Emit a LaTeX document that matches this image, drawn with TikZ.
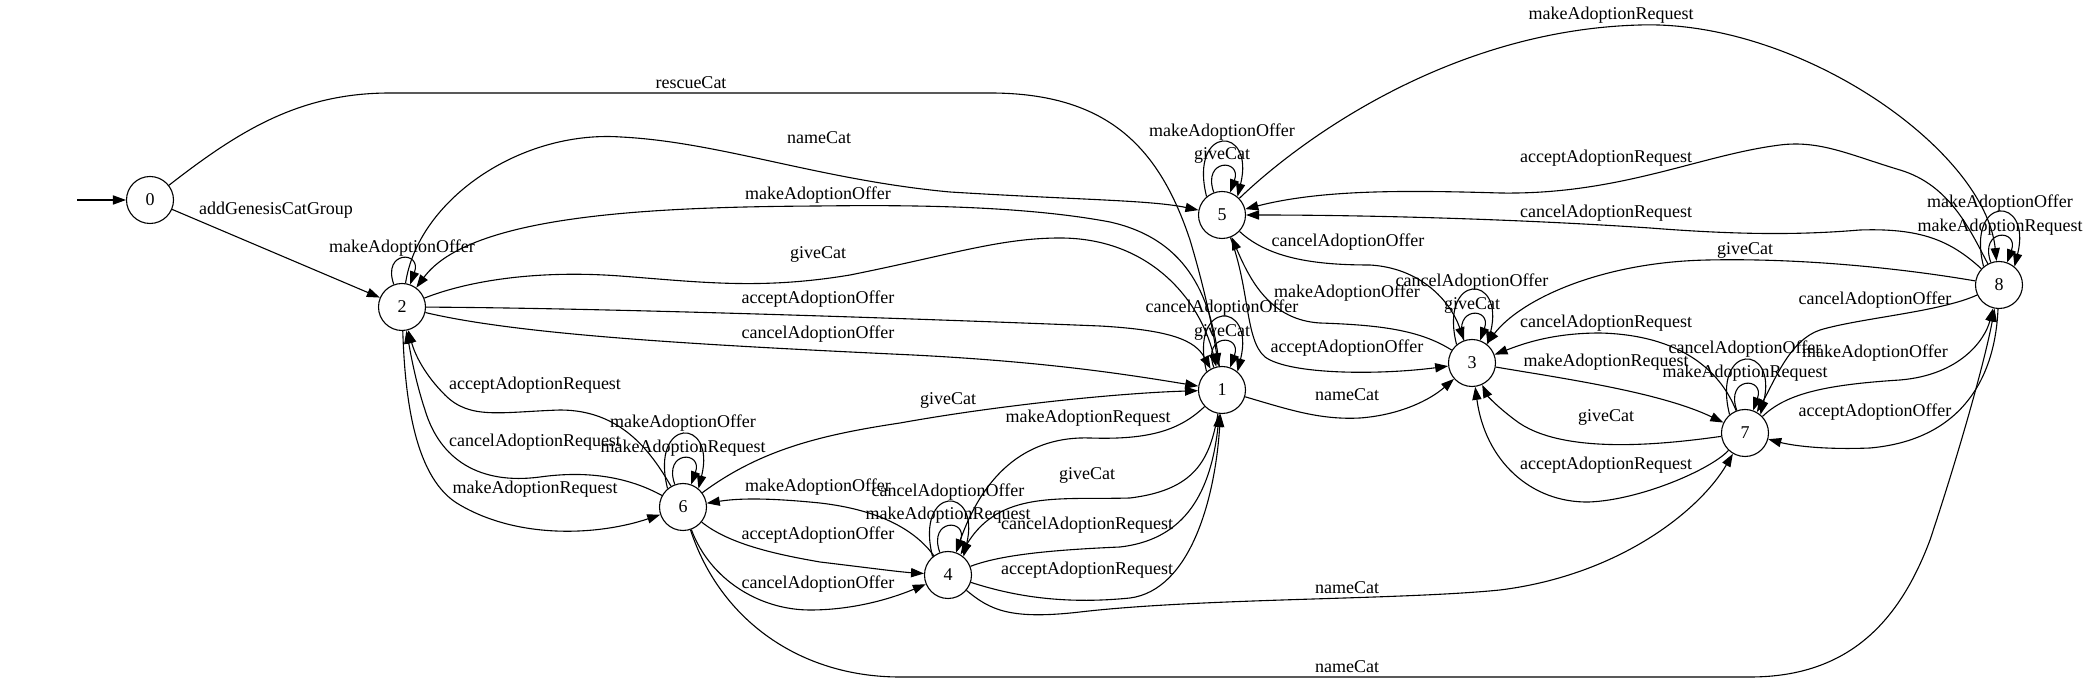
\documentclass[tikz,border=0pt]{standalone}
\usepackage{fontspec}
\newfontfamily\edgefontfam{Liberation Serif}
\newcommand\edgefont{\edgefontfam\fontsize{9}{10}\selectfont}
\usetikzlibrary{arrows.meta}
\tikzset{
  st/.style={circle, draw, line width=0.55pt, minimum size=23.5pt, inner sep=0pt, font=\edgefont},
  tr/.style={draw, line width=0.55pt, -{Triangle[length=6.5pt,width=4.6pt]}},
  lb/.style={font=\edgefont, inner sep=0pt},
}
\begin{document}
\begin{tikzpicture}[x=0.5pt,y=-0.5pt]
\useasboundingbox (0,0) rectangle (2089,683);
% states
\node[st] (n0) at (150,200) {0};
\node[st] (n2) at (402,307) {2};
\node[st] (n5) at (1222,215) {5};
\node[st] (n1) at (1222,390) {1};
\node[st] (n3) at (1472,363) {3};
\node[st] (n8) at (1999,285) {8};
\node[st] (n7) at (1745,433) {7};
\node[st] (n6) at (683,507) {6};
\node[st] (n4) at (948,575) {4};
\coordinate (init) at (77,200);
\draw[tr] (init) -- (n0);

% 0
\draw[tr] (n0) -- (n2);
\node[lb] (l02) at (276,210) {addGenesisCatGroup};
\draw[tr] (n0) .. controls (240,130) and (300,93) .. (390,93) -- (990,93) .. controls (1110,93) and (1160,150) .. (1190,240) .. controls (1205,290) and (1213,330) .. (n1);
\node[lb] (l01) at (691,83) {rescueCat};

% 2
\draw[tr] (n2.110) .. controls +(-12,-34) and +(12,-34) .. (n2.70);
\node[lb] (l22) at (402,248) {makeAdoptionOffer};
\draw[tr] (n2) .. controls (418,200) and (520,130) .. (621,137) .. controls (720,142) and (820,180) .. (950,192) .. controls (1080,200) and (1150,200) .. (n5);
\node[lb] (l25) at (819,138) {nameCat};
\draw[tr] (n1) .. controls (1212,300) and (1190,240) .. (1110,222) .. controls (1020,205) and (900,205) .. (818,206) .. controls (650,207) and (470,215) .. (n2);
\node[lb] (l12a) at (818,195) {makeAdoptionOffer};
\draw[tr] (n2) .. controls (470,280) and (540,270) .. (620,276) .. controls (700,282) and (760,290) .. (850,275) .. controls (950,255) and (1000,238) .. (1060,238) .. controls (1150,238) and (1200,300) .. (n1);
\node[lb] (l21a) at (818,254) {giveCat};
\draw[tr] (n2) .. controls (600,308) and (900,318) .. (1100,326) .. controls (1170,330) and (1195,340) .. (n1);
\node[lb] (l21b) at (818,299) {acceptAdoptionOffer};
\draw[tr] (n2) .. controls (520,335) and (700,345) .. (913,355) .. controls (1050,362) and (1130,375) .. (n1);
\node[lb] (l21c) at (818,334) {cancelAdoptionOffer};
\draw[tr] (n2) .. controls (405,400) and (415,480) .. (460,505) .. controls (520,540) and (600,535) .. (n6);
\node[lb] (l26) at (535,489) {makeAdoptionRequest};
\draw[tr] (n6) .. controls (650,450) and (620,410) .. (560,410) .. controls (500,412) and (470,420) .. (445,395) .. controls (425,375) and (415,355) .. (n2);
\node[lb] (l62a) at (535,385) {acceptAdoptionRequest};
\draw[tr] (n6) .. controls (630,478) and (590,470) .. (540,477) .. controls (480,485) and (440,460) .. (425,410) .. controls (415,380) and (410,350) .. (n2);
\node[lb] (l62b) at (535,442) {cancelAdoptionRequest};

% 6
\draw[tr] (n6.130) .. controls +(-18,-72) and +(18,-72) .. (n6.50);
\node[lb] (l66a) at (683,423) {makeAdoptionOffer};
\draw[tr] (n6.110) .. controls +(-12,-34) and +(12,-34) .. (n6.70);
\node[lb] (l66b) at (683,448) {makeAdoptionRequest};
\draw[tr] (n6) .. controls (760,450) and (820,435) .. (900,423) .. controls (1000,405) and (1120,393) .. (n1);
\node[lb] (l61) at (948,400) {giveCat};
\draw[tr] (n6) .. controls (730,545) and (780,555) .. (820,562) .. controls (870,568) and (900,572) .. (n4);
\node[lb] (l64a) at (818,535) {acceptAdoptionOffer};
\draw[tr] (n6) .. controls (710,580) and (760,610) .. (810,610) .. controls (860,610) and (900,595) .. (n4);
\node[lb] (l64b) at (818,584) {cancelAdoptionOffer};
\draw[tr] (n4) .. controls (915,530) and (880,510) .. (820,503) .. controls (770,498) and (740,498) .. (n6);
\node[lb] (l46) at (818,487) {makeAdoptionOffer};
\draw[tr] (n6) .. controls (720,620) and (800,677) .. (900,677) -- (1750,677) .. controls (1850,677) and (1900,620) .. (1930,540) .. controls (1960,450) and (1985,360) .. (n8);
\node[lb] (l68) at (1347,667) {nameCat};

% 4
\draw[tr] (n4.130) .. controls +(-18,-72) and +(18,-72) .. (n4.50);
\node[lb] (l44a) at (948,492) {cancelAdoptionOffer};
\draw[tr] (n4.110) .. controls +(-12,-34) and +(12,-34) .. (n4.70);
\node[lb] (l44b) at (948,515) {makeAdoptionRequest};
\draw[tr] (n1) .. controls (1180,430) and (1150,440) .. (1090,438) .. controls (1030,436) and (985,470) .. (n4);
\node[lb] (l14a) at (1088,418) {makeAdoptionRequest};
\draw[tr] (n1) .. controls (1210,460) and (1195,490) .. (1130,498) .. controls (1060,500) and (1000,490) .. (n4);
\node[lb] (l14b) at (1087,475) {giveCat};
\draw[tr] (n4) .. controls (1000,555) and (1050,550) .. (1120,547) .. controls (1180,540) and (1210,500) .. (n1);
\node[lb] (l41a) at (1087,525) {cancelAdoptionRequest};
\draw[tr] (n4) .. controls (1010,595) and (1060,605) .. (1130,598) .. controls (1190,590) and (1215,500) .. (n1);
\node[lb] (l41b) at (1087,570) {acceptAdoptionRequest};
\draw[tr] (n4) .. controls (990,610) and (1010,620) .. (1080,612) .. controls (1200,598) and (1400,600) .. (1500,590) .. controls (1620,575) and (1700,510) .. (n7);
\node[lb] (l47) at (1347,588) {nameCat};

% 1
\draw[tr] (n1.130) .. controls +(-18,-72) and +(18,-72) .. (n1.50);
\node[lb] (l11a) at (1222,308) {cancelAdoptionOffer};
\draw[tr] (n1.110) .. controls +(-12,-34) and +(12,-34) .. (n1.70);
\node[lb] (l11b) at (1222,332) {giveCat};
\draw[tr] (n1) .. controls (1290,410) and (1320,420) .. (1360,418) .. controls (1400,415) and (1430,400) .. (n3);
\node[lb] (l13) at (1347,395) {nameCat};

% 5
\draw[tr] (n5.130) .. controls +(-18,-72) and +(18,-72) .. (n5.50);
\node[lb] (l55a) at (1222,132) {makeAdoptionOffer};
\draw[tr] (n5.110) .. controls +(-12,-34) and +(12,-34) .. (n5.70);
\node[lb] (l55b) at (1222,155) {giveCat};
\draw[tr] (n5) .. controls (1250,290) and (1245,340) .. (1265,357) .. controls (1290,375) and (1380,375) .. (n3);
\node[lb] (l53a) at (1347,348) {acceptAdoptionOffer};
\draw[tr] (n3) .. controls (1420,330) and (1380,325) .. (1320,323) .. controls (1270,320) and (1250,280) .. (n5);
\node[lb] (l35) at (1347,293) {makeAdoptionOffer};
\draw[tr] (n5) .. controls (1270,260) and (1320,265) .. (1370,265) .. controls (1420,268) and (1450,300) .. (n3);
\node[lb] (l53b) at (1348,242) {cancelAdoptionOffer};
\draw[tr] (n5) .. controls (1300,140) and (1450,30) .. (1640,25) .. controls (1800,20) and (1985,150) .. (n8);
\node[lb] (l58) at (1611,15) {makeAdoptionRequest};

% 3
\draw[tr] (n3.130) .. controls +(-18,-72) and +(18,-72) .. (n3.50);
\node[lb] (l33a) at (1472,282) {cancelAdoptionOffer};
\draw[tr] (n3.110) .. controls +(-12,-34) and +(12,-34) .. (n3.70);
\node[lb] (l33b) at (1472,305) {giveCat};
\draw[tr] (n3) .. controls (1560,378) and (1660,392) .. (n7);
\node[lb] (l37) at (1606,362) {makeAdoptionRequest};
\draw[tr] (n7) .. controls (1720,370) and (1680,335) .. (1600,333) .. controls (1550,333) and (1520,345) .. (n3);
\node[lb] (l73a) at (1606,323) {cancelAdoptionRequest};
\draw[tr] (n7) .. controls (1660,445) and (1560,455) .. (1515,420) .. controls (1495,405) and (1487,395) .. (n3);
\node[lb] (l73b) at (1606,417) {giveCat};
\draw[tr] (n7) .. controls (1710,470) and (1640,500) .. (1589,502) .. controls (1530,503) and (1485,460) .. (n3);
\node[lb] (l73c) at (1606,465) {acceptAdoptionRequest};

% 7
\draw[tr] (n7.130) .. controls +(-18,-72) and +(18,-72) .. (n7.50);
\node[lb] (l77a) at (1745,349) {cancelAdoptionOffer};
\draw[tr] (n7.110) .. controls +(-12,-34) and +(12,-34) .. (n7.70);
\node[lb] (l77b) at (1745,373) {makeAdoptionRequest};
\draw[tr] (n7) .. controls (1785,395) and (1820,385) .. (1900,380) .. controls (1960,375) and (1985,340) .. (n8);
\node[lb] (l78) at (1875,353) {makeAdoptionOffer};

% 8
\draw[tr] (n8.130) .. controls +(-18,-72) and +(18,-72) .. (n8.50);
\node[lb] (l88a) at (2000,203) {makeAdoptionOffer};
\draw[tr] (n8.110) .. controls +(-12,-34) and +(12,-34) .. (n8.70);
\node[lb] (l88b) at (2000,227) {makeAdoptionRequest};
\draw[tr] (n8) .. controls (1900,268) and (1800,258) .. (1708,260) .. controls (1600,262) and (1520,300) .. (n3);
\node[lb] (l83) at (1745,250) {giveCat};
\draw[tr] (n8) .. controls (1940,312) and (1860,318) .. (1820,330) .. controls (1790,340) and (1775,380) .. (n7);
\node[lb] (l87a) at (1875,300) {cancelAdoptionOffer};
\draw[tr] (n8) .. controls (1995,380) and (1960,440) .. (1870,448) .. controls (1820,450) and (1790,445) .. (n7);
\node[lb] (l87b) at (1875,412) {acceptAdoptionOffer};
\draw[tr] (n8) .. controls (1970,230) and (1950,185) .. (1900,170) .. controls (1850,155) and (1820,140) .. (1780,145) .. controls (1700,155) and (1620,195) .. (1500,193) .. controls (1400,190) and (1320,190) .. (n5);
\node[lb] (l85a) at (1606,158) {acceptAdoptionRequest};
\draw[tr] (n8) .. controls (1950,240) and (1920,228) .. (1860,230) .. controls (1800,235) and (1740,235) .. (1650,228) .. controls (1500,218) and (1350,215) .. (n5);
\node[lb] (l85b) at (1606,213) {cancelAdoptionRequest};
\end{tikzpicture}
\end{document}
